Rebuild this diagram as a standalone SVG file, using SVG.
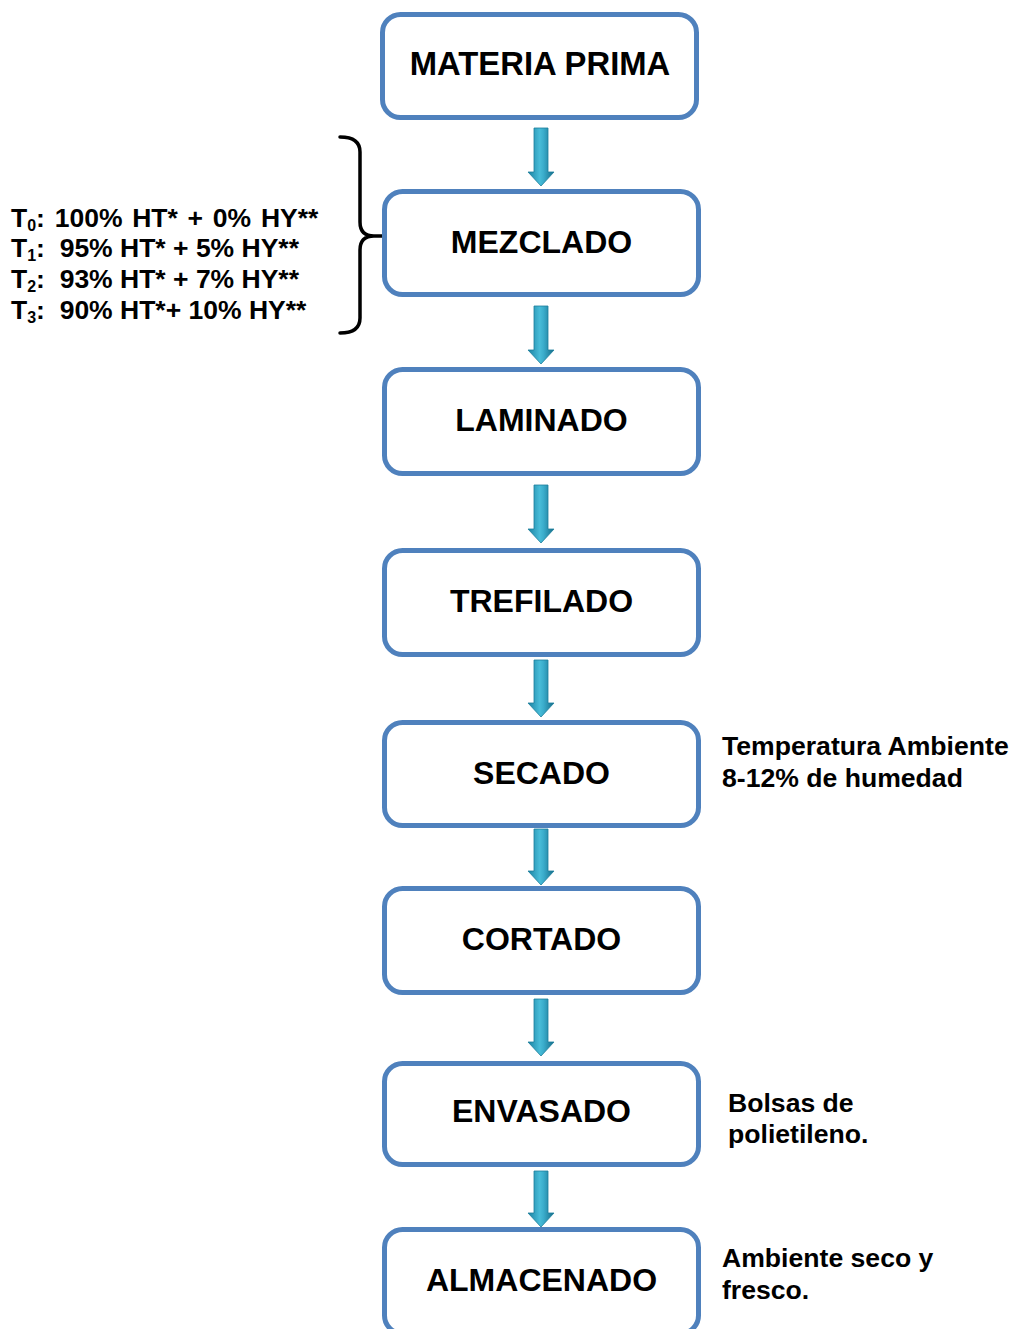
<svg xmlns="http://www.w3.org/2000/svg" width="1014" height="1329" viewBox="0 0 1014 1329">
<style>
.box{fill:#ffffff;stroke:#4f81bd;stroke-width:5}
.lbl{font-family:"Liberation Sans",Arial,sans-serif;font-weight:bold;font-size:32px;fill:#000;text-anchor:middle}
.note{font-family:"Liberation Sans",Arial,sans-serif;font-weight:bold;font-size:26.6px;fill:#000;white-space:pre}
.mix{font-family:"Liberation Sans",Arial,sans-serif;font-weight:bold;font-size:26.5px;fill:#000;white-space:pre}
.arrow{fill:url(#ag);stroke:#1d7f9c;stroke-width:0.8}
.brace{fill:none;stroke:#000;stroke-width:3.5;stroke-linecap:round;stroke-linejoin:round}
</style>
<defs>
<linearGradient id="ag" x1="0" y1="0" x2="1" y2="0">
<stop offset="0" stop-color="#1a82a2"/>
<stop offset="0.45" stop-color="#48bcd8"/>
<stop offset="0.6" stop-color="#3aaccb"/>
<stop offset="1" stop-color="#156c88"/>
</linearGradient>
</defs>
<rect width="1014" height="1329" fill="#ffffff"/>
<g id="connectors">
<path class="arrow" d="M534,128 L548,128 L548,172 L554,172 L541,186 L528,172 L534,172 Z"/>
<path class="arrow" d="M534,306 L548,306 L548,350 L554,350 L541,364 L528,350 L534,350 Z"/>
<path class="arrow" d="M534,485 L548,485 L548,529 L554,529 L541,543 L528,529 L534,529 Z"/>
<path class="arrow" d="M534,660 L548,660 L548,703 L554,703 L541,717 L528,703 L534,703 Z"/>
<path class="arrow" d="M534,829 L548,829 L548,871 L554,871 L541,885 L528,871 L534,871 Z"/>
<path class="arrow" d="M534,999 L548,999 L548,1042 L554,1042 L541,1056 L528,1042 L534,1042 Z"/>
<path class="arrow" d="M534,1171 L548,1171 L548,1213 L554,1213 L541,1227 L528,1213 L534,1213 Z"/>
<path class="brace" d="M340,137 Q360,137 360,152 L360,222 Q360,236 374,236 L383,236 M374,236 Q360,236 360,250 L360,318 Q360,333 340,333"/>
</g>
<g id="n1"><rect class="box" x="382.5" y="14.5" width="314" height="103" rx="18"/><text class="lbl" x="540" y="75" style="font-size:32.8px">MATERIA PRIMA</text></g>
<g id="n2"><rect class="box" x="384.5" y="191.5" width="314" height="103" rx="18"/><text class="lbl" x="541.5" y="253">MEZCLADO</text></g>
<g id="n3"><rect class="box" x="384.5" y="369.5" width="314" height="104" rx="18"/><text class="lbl" x="541.5" y="431">LAMINADO</text></g>
<g id="n4"><rect class="box" x="384.5" y="550.5" width="314" height="104" rx="18"/><text class="lbl" x="541.5" y="612">TREFILADO</text></g>
<g id="n5"><rect class="box" x="384.5" y="722.5" width="314" height="103" rx="18"/><text class="lbl" x="541.5" y="784">SECADO</text></g>
<g id="n6"><rect class="box" x="384.5" y="888.5" width="314" height="104" rx="18"/><text class="lbl" x="541.5" y="950">CORTADO</text></g>
<g id="n7"><rect class="box" x="384.5" y="1063.5" width="314" height="101" rx="18"/><text class="lbl" x="541.5" y="1122">ENVASADO</text></g>
<g id="n8"><rect class="box" x="384.5" y="1229.5" width="314" height="104" rx="18"/><text class="lbl" x="541.5" y="1291">ALMACENADO</text></g>
<g id="mix-notes">
<text class="mix" x="11" y="227" style="word-spacing:2.4px">T<tspan font-size="16" dy="4">0</tspan><tspan dy="-4">: 100% HT* + 0% HY**</tspan></text>
<text class="mix" x="11" y="257">T<tspan font-size="16" dy="4">1</tspan><tspan dy="-4">:  95% HT* + 5% HY**</tspan></text>
<text class="mix" x="11" y="288">T<tspan font-size="16" dy="4">2</tspan><tspan dy="-4">:  93% HT* + 7% HY**</tspan></text>
<text class="mix" x="11" y="319">T<tspan font-size="16" dy="4">3</tspan><tspan dy="-4">:  90% HT*+ 10% HY**</tspan></text>
</g>
<g id="secado-note"><text class="note" x="722" y="755">Temperatura Ambiente</text><text class="note" x="722" y="787">8-12% de humedad</text></g>
<g id="envasado-note"><text class="note" x="728" y="1112">Bolsas de</text><text class="note" x="728" y="1143">polietileno.</text></g>
<g id="almacenado-note"><text class="note" x="722" y="1267">Ambiente seco y</text><text class="note" x="722" y="1299">fresco.</text></g>
</svg>
